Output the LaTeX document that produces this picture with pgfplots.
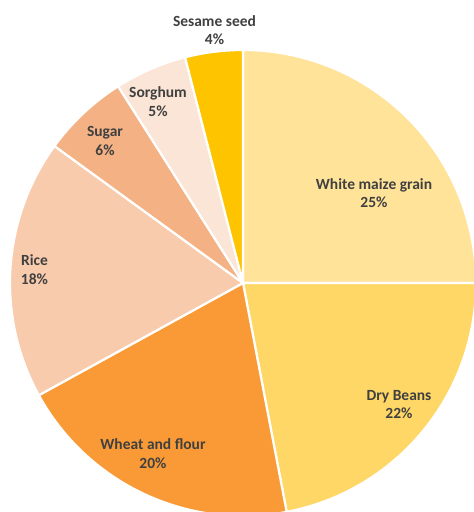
\documentclass[border=0pt]{standalone}
\usepackage{pgfplots}
\pgfplotsset{compat=1.18}
\usepackage{fontspec}
\setmainfont{Carlito}
\definecolor{cMaize}{HTML}{FFE399}
\definecolor{cBeans}{HTML}{FFD766}
\definecolor{cWheat}{HTML}{F99A36}
\definecolor{cRice}{HTML}{F8CBAD}
\definecolor{cSugar}{HTML}{F4B183}
\definecolor{cSorghum}{HTML}{FBE5D6}
\definecolor{cSesame}{HTML}{FFC400}
\definecolor{txt}{HTML}{404040}
% #1 cumulative share before the slice, #2 share of the slice, #3 colour
\newcommand{\piewedge}[3]{%
  \filldraw[fill=#3, draw=white, line width=2.2pt, line join=round]
    (axis cs:243,229) -- ++({90-3.6*(#1)}:233pt)
    arc[start angle={90-3.6*(#1)}, end angle={90-3.6*(#1+#2)}, radius=233pt] -- cycle;}
\begin{document}
\begin{tikzpicture}
\path[use as bounding box] (0,0) rectangle (474pt,512pt);
\begin{axis}[
  at={(0,0)}, anchor=south west,
  x=1pt, y=1pt, xmin=0, xmax=474, ymin=0, ymax=512,
  scale only axis, hide axis, clip=true,
]
% shares (percent), clockwise from 12 o'clock
\piewedge{0}{25}{cMaize}
\piewedge{25}{22}{cBeans}
\piewedge{47}{20}{cWheat}
\piewedge{67}{18}{cRice}
\piewedge{85}{6}{cSugar}
\piewedge{91}{5}{cSorghum}
\piewedge{96}{4}{cSesame}
\begin{scope}[every node/.style={align=center, text=txt,
   font=\fontsize{15.5}{18.5}\selectfont\bfseries}]
\node at (axis cs:374,319) {White maize grain\\25\%};
\node at (axis cs:399,107.5) {Dry Beans\\22\%};
\node at (axis cs:153,58.5) {Wheat and flour\\20\%};
\node at (axis cs:34.5,242.5) {Rice\\18\%};
\node at (axis cs:105,371) {Sugar\\6\%};
\node at (axis cs:158,410.5) {Sorghum\\5\%};
\node at (axis cs:214.5,482) {Sesame seed\\4\%};
\end{scope}
\end{axis}
\end{tikzpicture}
\end{document}
